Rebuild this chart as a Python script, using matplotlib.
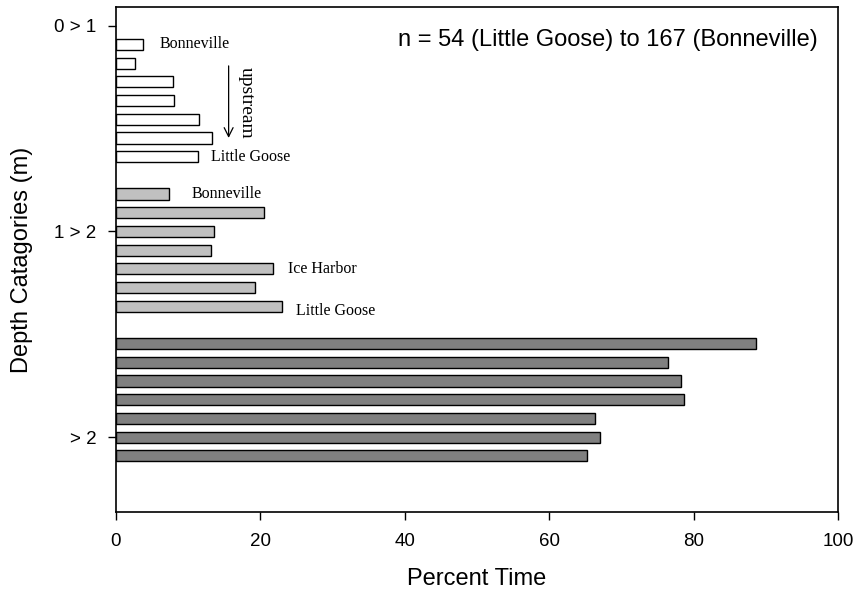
import matplotlib
matplotlib.use("Agg")
import matplotlib.pyplot as plt
import numpy as np

# Data (percent time), listed top to bottom: Bonneville ... Little Goose (upstream)
depth_categories = ["0 > 1", "1 > 2", "> 2"]
shallow_0_1 = [3.8, 2.7, 7.9, 8.1, 11.5, 13.3, 11.4]
mid_1_2 = [7.3, 20.5, 13.6, 13.1, 21.8, 19.2, 23.0]
deep_gt2 = [88.6, 76.4, 78.2, 78.7, 66.4, 67.1, 65.2]
x_ticks = [0, 20, 40, 60, 80, 100]
note = "n = 54 (Little Goose) to 167 (Bonneville)"

plt.rcParams['font.family'] = ['Liberation Sans', 'DejaVu Sans']

fig = plt.figure(figsize=(8.56, 5.96), dpi=100)
ax = fig.add_axes([116/856, 1-512/596, 722/856, 505/596])

groups = [shallow_0_1, mid_1_2, deep_gt2]
colors = ["white", "#c0c0c0", "#808080"]
positions = []
for g, vals in enumerate(groups):
    ys = np.arange(len(vals)) + g * (len(vals) + 1)
    positions.append(ys)
    ax.barh(ys, vals, height=0.6, color=colors[g], edgecolor="black", linewidth=1.0)

ax.set_ylim(25, -2)
ax.set_xlim(0, 100)
ax.set_yticks([-1, 10, 21])
ax.set_yticklabels(depth_categories, fontsize=13.5)
ax.set_xticks(x_ticks)
ax.set_xticklabels([str(t) for t in x_ticks], fontsize=13.5)
ax.tick_params(axis='both', direction='out', length=6, width=1, colors='black')
ax.tick_params(axis='x', pad=9)
ax.tick_params(axis='y', pad=8)
for s in ax.spines.values():
    s.set_linewidth(1.2)

ax.set_xlabel("Percent Time", fontsize=17)
ax.set_ylabel("Depth Catagories (m)", fontsize=17)
ax.xaxis.set_label_coords(0.5, -(579 - 512) / 505)
ax.yaxis.set_label_coords(-(116 - 22) / 722, 0.5)
ax.xaxis.label.set_va('center')
ax.yaxis.label.set_va('center')

serif = dict(family=['Liberation Serif', 'DejaVu Serif'], fontsize=11.5, va='center')
p0, p1 = positions[0], positions[1]
ax.text(6.0, p0[0], "Bonneville", **serif)
ax.text(13.2, p0[-1], "Little Goose", **serif)
ax.text(10.5, p1[0], "Bonneville", **serif)
ax.text(23.8, p1[4], "Ice Harbor", **serif)
ax.text(25.0, p1[-1] + 0.25, "Little Goose", **serif)

ax.annotate("", xy=(15.6, p0[-1] - 0.85), xytext=(15.6, p0[0] + 1.0),
            arrowprops=dict(arrowstyle='->', lw=0.9, color='black',
                            mutation_scale=16))
ax.text(18.0, (p0[0] + p0[-1]) / 2 + 0.1, "upstream", rotation=-90,
        family=['Liberation Serif', 'DejaVu Serif'], fontsize=14,
        va='center', ha='center')

ax.text((818 - 116) / 722, (512 - 40) / 505, note, transform=ax.transAxes,
        ha='right', va='center', fontsize=17)

fig.savefig("out.png", dpi=100)
